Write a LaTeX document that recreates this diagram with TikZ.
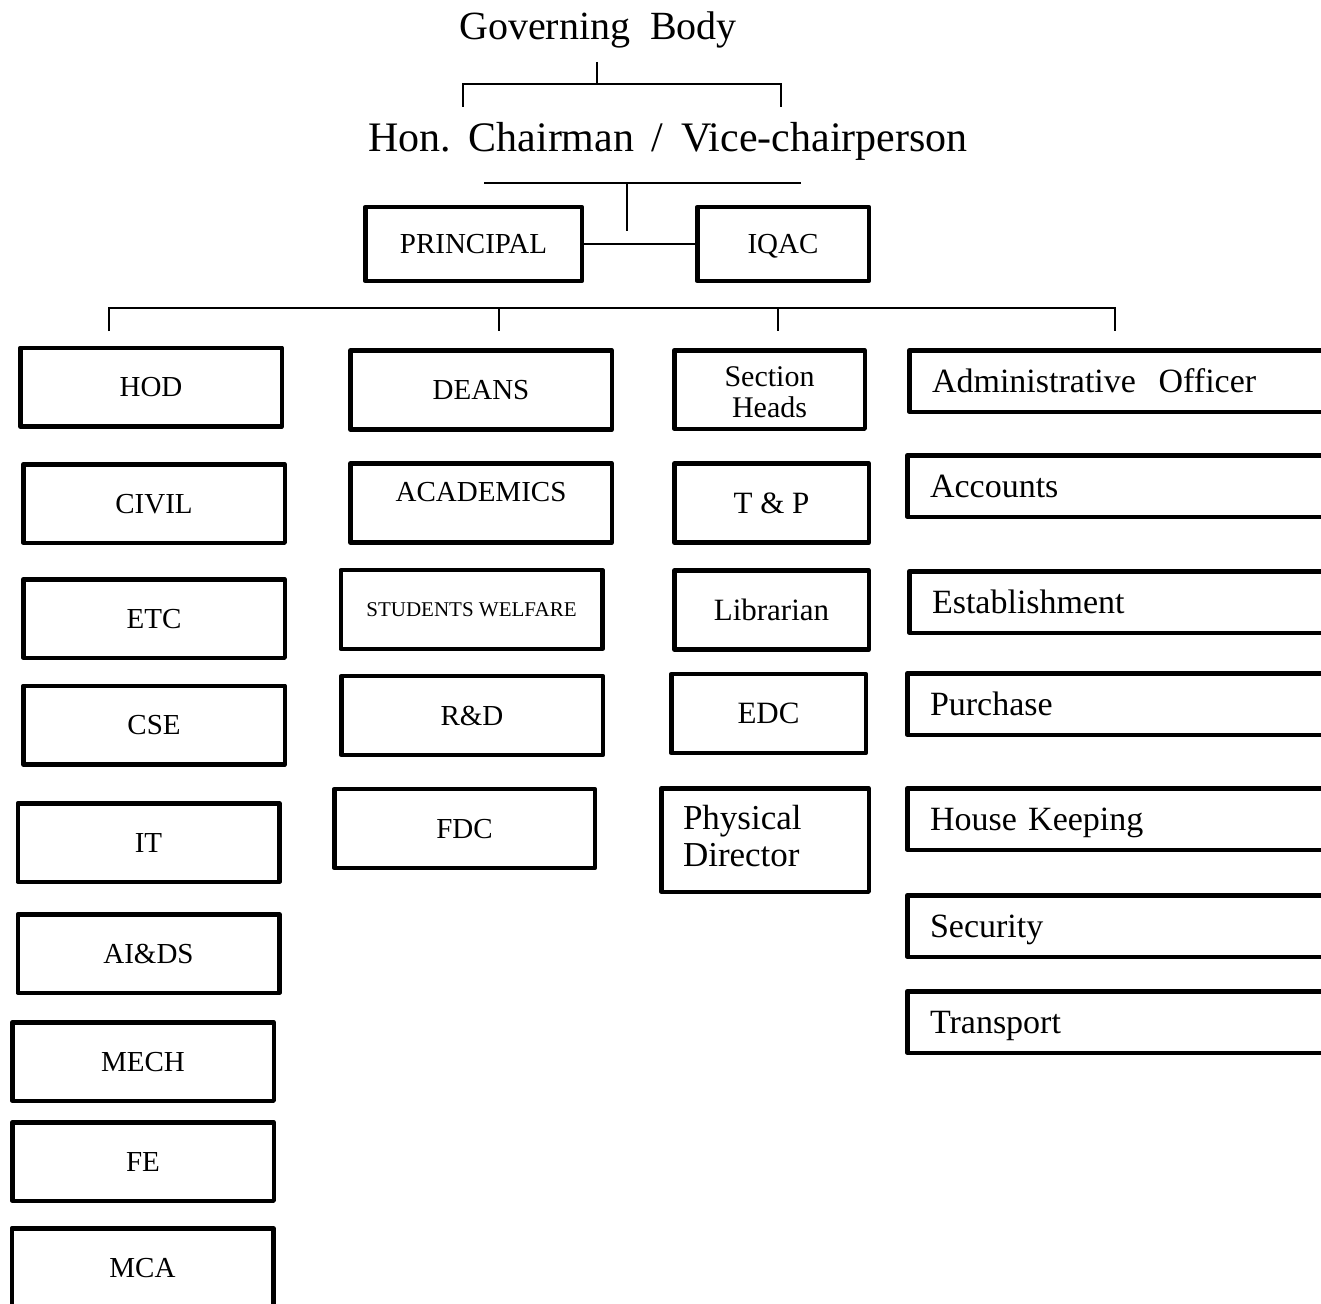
\documentclass[tikz,border=0pt]{standalone}
\usepackage{fontspec}
\setmainfont{Liberation Serif}
\newcommand{\widesp}{\frenchspacing\spaceskip 17.5pt\relax}
\begin{document}
\begin{tikzpicture}[x=1pt,y=-1pt,
  box/.style={draw, line width=4.5pt, line join=round, rectangle, inner sep=0pt, text depth=0pt, align=center, font=\fontsize{29}{33}\selectfont},
  cone/.style={box, minimum width=261.5pt, minimum height=78.5pt},
  ctwo/.style={box, minimum width=261.5pt, minimum height=79pt},
  cthree/.style={box, minimum width=194.5pt, minimum height=79pt, font=\fontsize{31}{34}\selectfont},
  adm/.style={draw, line width=4.5pt, line join=round, rectangle, anchor=west, minimum width=520pt, minimum height=61.5pt, inner xsep=22.75pt, inner ysep=0pt, text width=474.5pt, align=left, text depth=0pt, font=\fontsize{34}{38}\selectfont},
  wire/.style={line width=2pt},
  ttl/.style={inner sep=0pt, anchor=base}
]
\clip (0,0) rectangle (1321,1303);
\fill[white] (0,0) rectangle (1321,1303);

% titles
\node[ttl, font=\fontsize{40}{44}\selectfont] (gb) at (598,40) {Governing~ Body};
\node[ttl, font=\fontsize{42}{46}\selectfont] (chair) at (668,151) {\widesp Hon. Chairman / Vice-chairperson};

% top boxes
\node[box, minimum width=216.5pt, minimum height=74pt] (principal) at (473.5,244) {PRINCIPAL};
\node[box, minimum width=171.5pt, minimum height=74pt] (iqac) at (783,244) {IQAC};

% column 1
\node[cone] (hod) at (151,387) {HOD};
\node[cone] (civil) at (154,503.5) {CIVIL};
\node[cone] (etc) at (154,618.5) {ETC};
\node[cone] (cse) at (154,725) {CSE};
\node[cone] (it) at (148.5,842.5) {IT};
\node[cone] (aids) at (148.5,953.5) {AI\&DS};
\node[cone] (mech) at (143,1061.5) {MECH};
\node[cone] (fe) at (143,1161.5) {FE};
\node[cone] (mca) at (142.5,1267.5) {MCA};

% column 2
\node[ctwo] (deans) at (481,390) {DEANS};
\node[ctwo, text depth=22pt] (acad) at (481,503) {ACADEMICS};
\node[ctwo, font=\fontsize{21}{24}\selectfont] (sw) at (471.5,609.5) {STUDENTS WELFARE};
\node[ctwo] (rd) at (472,715.5) {R\&D};
\node[ctwo, minimum width=260.5pt] (fdc) at (464.5,828.5) {FDC};

% column 3
\node[box, minimum width=190.5pt, minimum height=78.5pt, text width=150pt, text depth=25pt, font=\fontsize{30}{31}\selectfont] (sect) at (769.5,389.5) {Section\\Heads};
\node[cthree] (tp) at (771.5,503) {T \& P};
\node[cthree] (lib) at (771.5,610) {Librarian};
\node[cthree] (edc) at (768.5,713.5) {EDC};
\node[box, minimum width=207.5pt, minimum height=103.5pt, inner xsep=21.75pt, text width=164pt, align=left, text depth=46pt, font=\fontsize{35}{37}\selectfont] (phys) at (765,840) {Physical\\Director};

% column 4
\node[adm] (ao) at (907,381) {Administrative~ Officer};
\node[adm] (acc) at (905,486) {Accounts};
\node[adm] (est) at (907,602) {Establishment};
\node[adm] (pur) at (905,704) {Purchase};
\node[adm] (hk) at (905,819) {House Keeping};
\node[adm] (sec) at (905,926) {Security};
\node[adm] (tr) at (905,1022) {Transport};

% connectors
\coordinate (gbt) at (597,62);
\coordinate (gbj) at (597,84);
\coordinate (brL) at (463,84);
\coordinate (brR) at (781,84);
\coordinate (brLd) at (463,107);
\coordinate (brRd) at (781,107);
\draw[wire] (gbt) -- (gbj);
\draw[wire] (brLd) -- (brL) -- (brR) -- (brRd);

\coordinate (chL) at (484,183);
\coordinate (chR) at (801,183);
\coordinate (chM) at (627,183);
\coordinate (chMd) at (627,231);
\draw[wire] (chL) -- (chR);
\draw[wire] (chM) -- (chMd);
\draw[wire] (principal.east) -- (iqac.west);

\coordinate (busA) at (109,308);
\coordinate (busB) at (499,308);
\coordinate (busC) at (778,308);
\coordinate (busD) at (1115,308);
\coordinate (dropA) at (109,331);
\coordinate (dropB) at (499,331);
\coordinate (dropC) at (778,331);
\coordinate (dropD) at (1115,331);
\draw[wire] (dropA) -- (busA) -- (busD) -- (dropD);
\draw[wire] (busB) -- (dropB);
\draw[wire] (busC) -- (dropC);
\end{tikzpicture}
\end{document}
